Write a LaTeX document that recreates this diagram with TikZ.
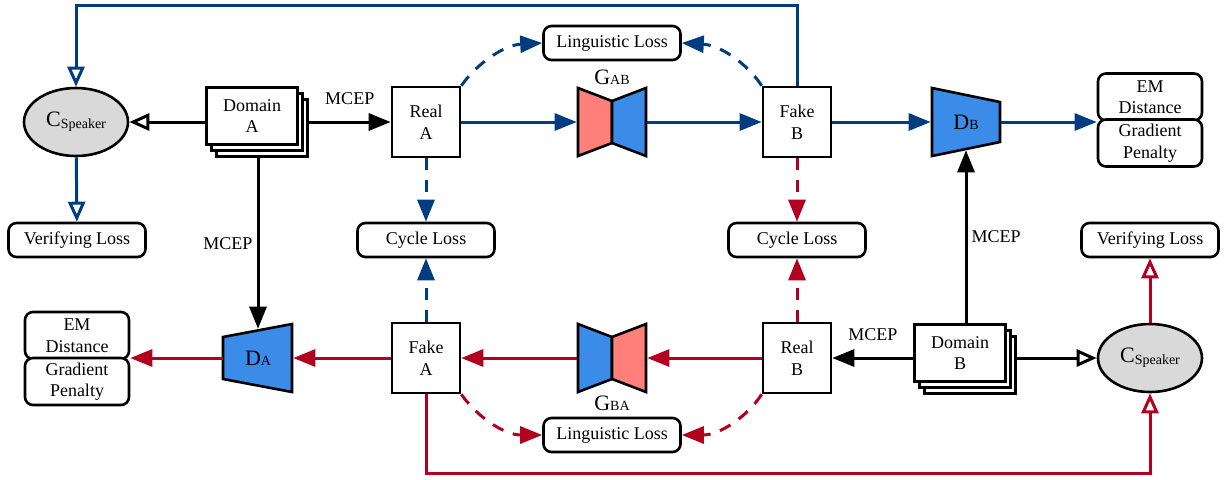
\documentclass[tikz,border=0pt]{standalone}
\usepackage{fontspec}
\setmainfont{Liberation Serif}
\usetikzlibrary{positioning, arrows.meta, shapes.geometric, shadows}
\definecolor{azul}{RGB}{0,61,128}
\definecolor{rojo}{RGB}{178,0,30}
\definecolor{celeste}{RGB}{58,140,232}
\definecolor{salmon}{RGB}{255,127,122}
\definecolor{gris}{RGB}{217,217,217}
\newcommand{\subtxt}[2]{{\fontsize{11}{12}\selectfont #1}{\fontsize{7}{8}\selectfont #2}}

\begin{document}
\begin{tikzpicture}[x=0.5pt,y=-0.5pt,line width=1.3pt,font=\fontsize{9}{10.8}\selectfont,
    caja/.style={draw,fill=white,minimum width=34pt,minimum height=35pt,align=center,inner sep=1pt},
    dominio/.style={draw,fill=white,minimum width=45.5pt,minimum height=28.5pt,align=center,inner sep=1pt,
        double copy shadow={shadow xshift=2.5pt,shadow yshift=-3pt}},
    perdida/.style={draw,rounded corners=4pt,fill=white,minimum width=68.5pt,minimum height=17pt,inner sep=1pt},
    em/.style={draw,rounded corners=4pt,fill=white,minimum width=52pt,minimum height=23.5pt,align=center,inner sep=0pt},
    clasif/.style={draw,ellipse,fill=gris,minimum width=52pt,minimum height=34pt,inner sep=0pt},
    hueco/.style={inner sep=0pt,minimum width=34pt},
    flecha/.style={line width=1.5pt,-{Triangle[length=11pt,width=8.5pt]}},
    abierta/.style={line width=1.5pt,-{Triangle[open,length=10pt,width=8.5pt]}},
    punteada/.style={flecha,dash pattern=on 6pt off 5pt},
    etiqueta/.style={inner sep=0.5pt},
    mcep/.style={inner sep=2pt}]
    \useasboundingbox (0,0) rectangle (1227,479);

    % generadores y discriminadores
    \draw[fill=salmon] (578,88) -- (612,101) -- (612,143) -- (578,156) -- cycle;
    \draw[fill=celeste] (612,101) -- (646,88) -- (646,156) -- (612,143) -- cycle;
    \draw[fill=celeste] (578,324) -- (612,337) -- (612,379) -- (578,392) -- cycle;
    \draw[fill=salmon] (612,337) -- (646,324) -- (646,392) -- (612,379) -- cycle;
    \draw[fill=celeste] (932,88) -- (1000,102) -- (1000,142) -- (932,156) -- cycle;
    \draw[fill=celeste] (223,337) -- (292,324) -- (292,392) -- (223,379) -- cycle;

    % fila de arriba
    \node[clasif] (CA) at (76,122) {\subtxt{C}{\raisebox{-1pt}{Speaker}}};
    \node[dominio] (DomA) at (252,116) {Domain\\A};
    \node[perdida] (VerA) at (77,240) {Verifying Loss};
    \node[caja] (RealA) at (426,122) {Real\\A};
    \node[hueco,minimum height=34pt,label={[etiqueta]above:\subtxt{G}{AB}}] (GAB) at (612,122) {};
    \node[caja] (FakeB) at (797,122) {Fake\\B};
    \node[hueco,minimum height=27pt] (DB) at (966,122) {\subtxt{D}{B}};
    \node[em] (EMB) at (1150,97) {EM\\Distance};
    \node[em] (GPB) at (1150,143) {Gradient\\Penalty};
    \node[perdida] (LingA) at (612,43) {Linguistic Loss};
    \node[perdida] (CycA) at (426,240) {Cycle Loss};
    \node[perdida] (CycB) at (797,240) {Cycle Loss};
    \node[perdida] (VerB) at (1150,240) {Verifying Loss};

    % fila de abajo
    \node[em] (EMA) at (77,335.5) {EM\\Distance};
    \node[em] (GPA) at (77,381.5) {Gradient\\Penalty};
    \node[hueco,minimum height=28pt] (DA) at (258,358) {\subtxt{D}{A}};
    \node[caja] (FakeA) at (426,358) {Fake\\A};
    \node[hueco,minimum height=34pt,label={[etiqueta]below:\subtxt{G}{BA}}] (GBA) at (612,358) {};
    \node[caja] (RealB) at (797,358) {Real\\B};
    \node[dominio] (DomB) at (960,353) {Domain\\B};
    \node[clasif] (CB) at (1150,358) {\subtxt{C}{\raisebox{-1pt}{Speaker}}};
    \node[perdida] (LingB) at (612,435) {Linguistic Loss};

    % dominio A
    \draw[abierta] (DomA.west |- CA.east) -- (CA.east);
    \draw[flecha] ([xshift=5pt]DomA.east |- RealA.west) -- node[mcep,above=6pt]{MCEP} (RealA.west);
    \draw[flecha] ([yshift=-6pt]DA.north |- DomA.south) -- node[mcep,left]{MCEP} (DA.north);

    % camino A -> B
    \draw[flecha,azul] (RealA) -- (GAB);
    \draw[flecha,azul] (GAB) -- (FakeB);
    \draw[flecha,azul] (FakeB) -- (DB);
    \draw[flecha,azul] (DB.east) -- (GPB.north west |- DB.east);
    \draw[punteada,azul] (RealA) -- (CycA);
    \draw[punteada,azul] (FakeA) -- (CycA);
    \draw[punteada,azul] (RealA.north east) .. controls (478,62) and (505,45) .. (LingA.west);
    \draw[punteada,azul] (FakeB.north west) .. controls (746,62) and (719,45) .. (LingA.east);
    \coordinate (arriba) at (0,5);
    \draw[abierta,azul] (FakeB.north) -- (FakeB.north |- arriba) -| (CA.north);
    \draw[abierta,azul] (CA) -- (VerA);

    % dominio B
    \draw[flecha] (DomB.west |- RealB.east) -- node[mcep,above=6pt]{MCEP} (RealB.east);
    \draw[abierta] ([xshift=5pt]DomB.east |- CB.west) -- (CB.west);
    \draw[flecha] (DB.south |- DomB.north) -- node[mcep,right]{MCEP} (DB.south);

    % camino B -> A
    \draw[flecha,rojo] (RealB) -- (GBA);
    \draw[flecha,rojo] (GBA) -- (FakeA);
    \draw[flecha,rojo] (FakeA) -- (DA);
    \draw[flecha,rojo] (DA.west) -- (GPA.north east |- DA.west);
    \draw[punteada,rojo] (FakeB) -- (CycB);
    \draw[punteada,rojo] (RealB) -- (CycB);
    \draw[punteada,rojo] (FakeA.south east) .. controls (478,418) and (505,435) .. (LingB.west);
    \draw[punteada,rojo] (RealB.south west) .. controls (746,418) and (719,435) .. (LingB.east);
    \coordinate (abajo) at (0,473);
    \draw[abierta,rojo] (FakeA.south) -- (FakeA.south |- abajo) -| (CB.south);
    \draw[abierta,rojo] (CB) -- (VerB);
\end{tikzpicture}
\end{document}
